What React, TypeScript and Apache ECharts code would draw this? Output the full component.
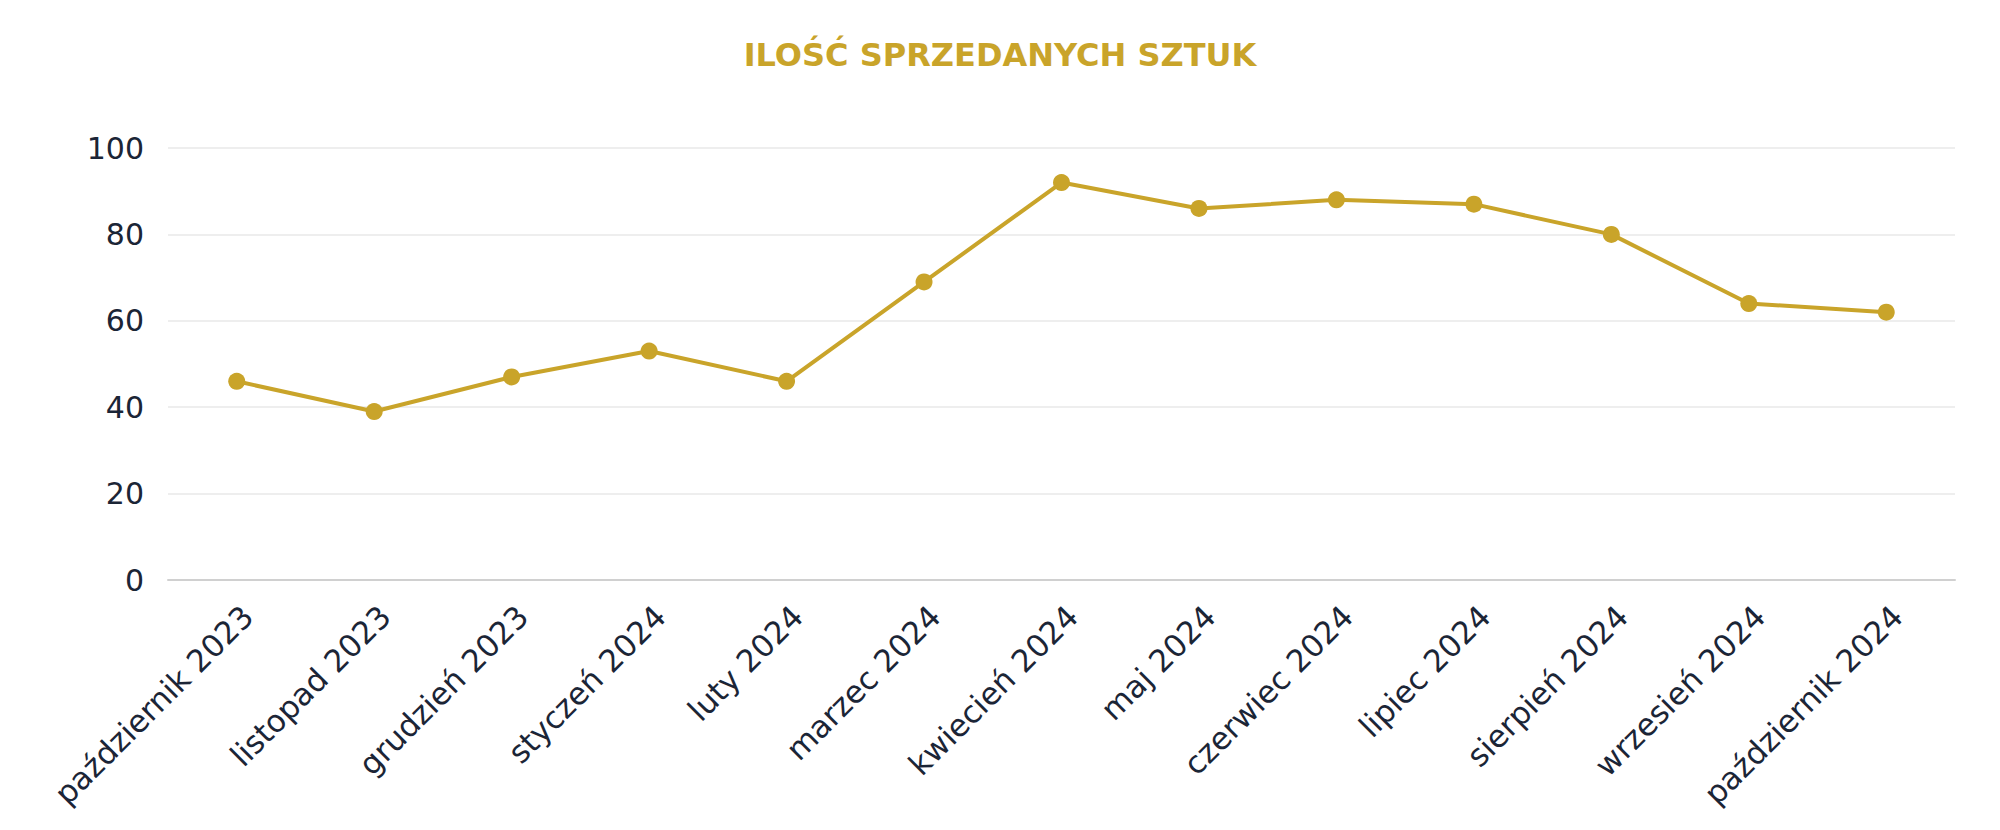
import { useRef, useEffect } from 'react'
import * as echarts from 'echarts'

const months = [
  'październik 2023',
  'listopad 2023',
  'grudzień 2023',
  'styczeń 2024',
  'luty 2024',
  'marzec 2024',
  'kwiecień 2024',
  'maj 2024',
  'czerwiec 2024',
  'lipiec 2024',
  'sierpień 2024',
  'wrzesień 2024',
  'październik 2024',
]

const unitsSold = [46, 39, 47, 53, 46, 69, 92, 86, 88, 87, 80, 64, 62]

const yTicks = [0, 20, 40, 60, 80, 100]

const GOLD = '#c9a42a'
const NAVY = '#1b2536'
const FONT = '"DejaVu Sans", "Open Sans", sans-serif'

export default function App() {
  const containerRef = useRef<HTMLDivElement>(null)

  useEffect(() => {
    const el = containerRef.current
    if (!el) return
    const chart = echarts.init(el, null, { renderer: 'svg' })

    const option: echarts.EChartsOption = {
      animation: false,
      backgroundColor: '#ffffff',
      title: {
        text: 'ILOŚĆ SPRZEDANYCH SZTUK',
        left: 'center',
        top: 34,
        textStyle: { color: GOLD, fontFamily: FONT, fontSize: 32, fontWeight: 700 },
      },
      grid: { left: 168, right: 45, top: 148, bottom: 250, containLabel: false },
      xAxis: {
        type: 'category',
        data: months,
        boundaryGap: true,
        axisLine: { show: true, lineStyle: { color: '#d0d0d0', width: 2 } },
        axisTick: { show: false },
        axisLabel: {
          rotate: 45,
          interval: 0,
          margin: 20,
          verticalAlign: 'top',
          color: NAVY,
          fontFamily: FONT,
          fontSize: 31,
        },
      },
      yAxis: {
        type: 'value',
        min: yTicks[0],
        max: yTicks[yTicks.length - 1],
        interval: 20,
        axisLine: { show: false },
        axisTick: { show: false },
        axisLabel: { margin: 24, color: NAVY, fontFamily: FONT, fontSize: 30 },
        splitLine: { lineStyle: { color: '#e8e8e8', width: 1.5 } },
      },
      series: [
        {
          name: 'Ilość',
          type: 'line',
          data: unitsSold,
          symbol: 'circle',
          symbolSize: 17,
          lineStyle: { color: GOLD, width: 4 },
          itemStyle: { color: GOLD },
        },
      ],
    }

    chart.setOption(option)
    return () => {
      chart.dispose()
    }
  }, [])

  return (
    <div
      ref={containerRef}
      style={{ position: 'fixed', left: 0, top: 0, width: 2000, height: 830 }}
    />
  )
}
